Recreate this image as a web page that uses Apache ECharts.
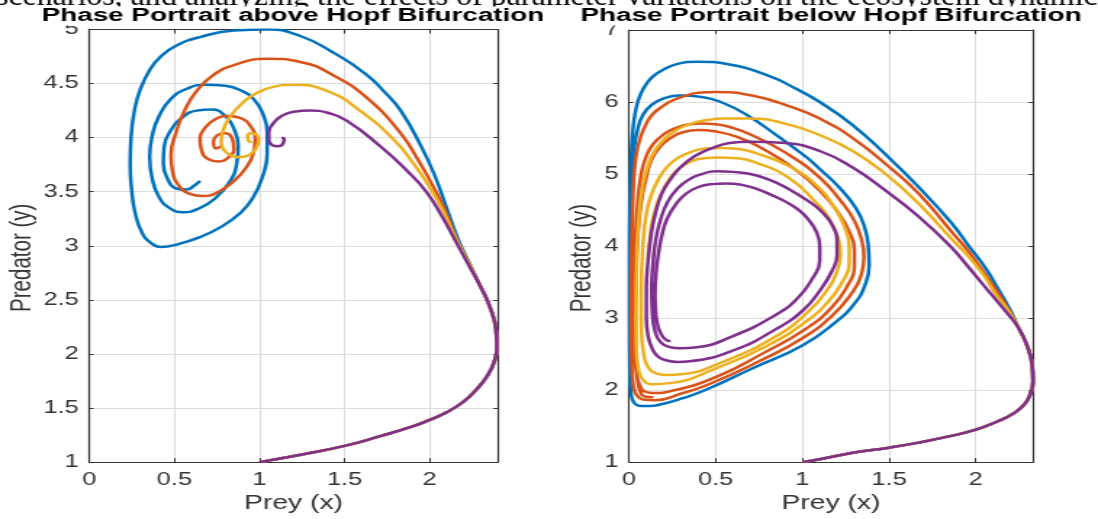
<!DOCTYPE html>
<html>
<head>
<meta charset="utf-8">
<script src="https://cdn.jsdelivr.net/npm/echarts@6/dist/echarts.min.js"></script>
<style>
  html, body { margin: 0; padding: 0; background: #fff; overflow: hidden; }
  #chart { width: 757px; height: 519px; transform: scaleX(1.45046); transform-origin: 0 0; }
</style>
</head>
<body>
<div id="chart"></div>
<script>
// shared start of every trajectory (prey, predator)
const aboveStart = [[1.0,1.0],[1.25,1.07],[1.5,1.15],[1.71,1.24],[1.9,1.33],[2.0,1.39],[2.1,1.46],[2.2,1.56],[2.28,1.68],[2.34,1.8],[2.38,1.93],[2.395,2.06],[2.39,2.22],[2.35,2.45],[2.3,2.62]];
const aboveBlue = [[2.24,2.82],[2.17,3.05],[2.1,3.35],[2.03,3.65],[1.95,3.92],[1.83,4.25],[1.73,4.43],[1.63,4.58],[1.43,4.79],[1.24,4.94],[1.05,5.0],[0.85,4.99],[0.65,4.93],[0.51,4.85],[0.42,4.75],[0.357,4.63],[0.3,4.45],[0.265,4.25],[0.245,4.0],[0.24,3.75],[0.25,3.5],[0.27,3.3],[0.31,3.12],[0.36,3.03],[0.42,2.99],[0.51,3.01],[0.65,3.08],[0.78,3.18],[0.885,3.3],[0.96,3.44],[1.02,3.65],[1.045,3.85],[1.045,4.05],[1.02,4.22],[0.97,4.35],[0.9,4.43],[0.8,4.48],[0.68,4.49],[0.57,4.45],[0.48,4.36],[0.41,4.2],[0.37,4.02],[0.355,3.82],[0.37,3.62],[0.41,3.45],[0.47,3.35],[0.55,3.31],[0.65,3.35],[0.74,3.44],[0.82,3.58],[0.865,3.75],[0.875,3.92],[0.85,4.08],[0.8,4.2],[0.72,4.26],[0.63,4.25],[0.55,4.19],[0.48,4.07],[0.44,3.92],[0.435,3.76],[0.46,3.62],[0.51,3.53],[0.57,3.52],[0.62,3.56],[0.65,3.6]];
const aboveOrange = [[2.24,2.81],[2.16,3.05],[2.09,3.33],[2.02,3.55],[1.93,3.8],[1.83,4.04],[1.63,4.37],[1.43,4.58],[1.24,4.7],[1.04,4.73],[0.85,4.67],[0.73,4.58],[0.63,4.43],[0.56,4.25],[0.51,4.05],[0.48,3.84],[0.49,3.68],[0.53,3.55],[0.59,3.48],[0.67,3.46],[0.76,3.5],[0.85,3.6],[0.92,3.72],[0.965,3.86],[0.975,3.99],[0.95,4.1],[0.89,4.18],[0.81,4.2],[0.74,4.17],[0.68,4.09],[0.65,3.99],[0.66,3.88],[0.7,3.8],[0.76,3.78],[0.82,3.82],[0.85,3.9],[0.84,3.99],[0.8,4.04],[0.75,4.02],[0.73,3.96],[0.745,3.9],[0.775,3.92]];
const aboveYellow = [[2.24,2.81],[2.16,3.05],[2.08,3.32],[2.0,3.54],[1.91,3.75],[1.79,3.98],[1.59,4.25],[1.4,4.43],[1.2,4.49],[1.08,4.47],[0.98,4.41],[0.9,4.32],[0.83,4.2],[0.785,4.06],[0.775,3.95],[0.8,3.87],[0.84,3.83],[0.89,3.82],[0.94,3.84],[0.98,3.9],[0.995,3.98],[0.98,4.03],[0.95,4.04],[0.93,4.01],[0.935,3.97],[0.955,3.96]];
const abovePurple = [[2.23,2.82],[2.15,3.05],[2.07,3.28],[1.98,3.5],[1.87,3.69],[1.71,3.92],[1.51,4.16],[1.4,4.23],[1.3,4.25],[1.2,4.24],[1.13,4.2],[1.08,4.13],[1.055,4.05],[1.055,3.98],[1.075,3.93],[1.11,3.92],[1.14,3.95],[1.145,3.99],[1.13,4.0]];

const belowStart = [[1.0,1.0],[1.1,1.04],[1.29,1.13],[1.5,1.2],[1.67,1.27],[1.85,1.36],[2.0,1.45],[2.13,1.57],[2.22,1.68],[2.28,1.8],[2.315,1.95],[2.33,2.12],[2.325,2.35],[2.3,2.59],[2.25,2.85]];
const belowBlue = [[2.19,3.15],[2.13,3.4],[2.06,3.68],[1.96,4.0],[1.86,4.32],[1.67,4.82],[1.48,5.27],[1.29,5.68],[1.1,6.0],[0.95,6.2],[0.81,6.36],[0.58,6.52],[0.39,6.56],[0.28,6.53],[0.2,6.45],[0.14,6.36],[0.1,6.25],[0.065,6.1],[0.04,5.9],[0.022,5.6],[0.012,5.2],[0.006,4.6],[0.003,4.0],[0.003,3.0],[0.005,2.3],[0.01,2.0],[0.02,1.87],[0.04,1.8],[0.07,1.78],[0.12,1.78],[0.18,1.8],[0.3,1.88],[0.43,1.99],[0.71,2.3],[1.0,2.62],[1.19,2.94],[1.3,3.2],[1.36,3.45],[1.385,3.73],[1.38,4.0],[1.36,4.25],[1.31,4.52],[1.21,4.82],[1.1,5.07],[1.02,5.24],[0.85,5.54],[0.68,5.82],[0.55,5.98],[0.42,6.07],[0.29,6.09],[0.2,6.05],[0.13,5.96],[0.08,5.82],[0.05,5.62],[0.03,5.36],[0.018,5.0],[0.01,4.5],[0.006,4.0],[0.004,3.0],[0.005,2.05]];
const belowOrange = [[2.18,3.15],[2.12,3.38],[2.05,3.62],[1.96,3.92],[1.86,4.2],[1.67,4.73],[1.48,5.14],[1.29,5.5],[1.1,5.77],[0.94,5.93],[0.71,6.09],[0.5,6.14],[0.4,6.13],[0.33,6.09],[0.25,6.02],[0.2,5.95],[0.14,5.84],[0.1,5.7],[0.065,5.5],[0.044,5.3],[0.03,5.0],[0.022,4.6],[0.015,4.0],[0.012,3.0],[0.015,2.4],[0.022,2.12],[0.035,1.97],[0.055,1.9],[0.08,1.87],[0.15,1.86],[0.3,1.95],[0.45,2.07],[0.75,2.4],[1.0,2.72],[1.17,3.03],[1.28,3.33],[1.34,3.6],[1.355,3.85],[1.34,4.1],[1.3,4.35],[1.23,4.6],[1.1,4.95],[0.9,5.3],[0.7,5.55],[0.6,5.64],[0.5,5.69],[0.42,5.7],[0.35,5.69],[0.27,5.64],[0.2,5.55],[0.14,5.42],[0.1,5.25],[0.07,5.0],[0.05,4.6],[0.035,4.0],[0.03,3.0],[0.033,2.5],[0.045,2.2],[0.065,2.05],[0.09,1.98],[0.14,1.96],[0.25,1.99],[0.5,2.18],[0.78,2.52],[1.02,2.85],[1.17,3.15],[1.26,3.45],[1.3,3.7],[1.3,3.95],[1.27,4.2],[1.21,4.45],[1.12,4.72],[0.95,5.08],[0.75,5.38],[0.62,5.52],[0.5,5.59],[0.4,5.61],[0.31,5.58],[0.24,5.5],[0.18,5.38],[0.13,5.2],[0.1,4.95],[0.07,4.6],[0.05,4.1],[0.04,3.5],[0.037,2.9],[0.04,2.4],[0.05,2.12],[0.065,1.98],[0.09,1.91],[0.14,1.9]];
const belowYellow = [[2.18,3.13],[2.11,3.35],[2.05,3.58],[1.96,3.85],[1.86,4.1],[1.67,4.59],[1.48,5.0],[1.29,5.32],[1.1,5.54],[0.9,5.7],[0.7,5.77],[0.55,5.77],[0.45,5.75],[0.36,5.7],[0.28,5.62],[0.21,5.5],[0.15,5.33],[0.11,5.12],[0.08,4.85],[0.06,4.5],[0.047,4.0],[0.04,3.0],[0.042,2.6],[0.05,2.36],[0.065,2.2],[0.09,2.12],[0.13,2.08],[0.25,2.1],[0.5,2.3],[0.8,2.62],[1.02,2.95],[1.15,3.23],[1.23,3.5],[1.27,3.75],[1.27,4.0],[1.24,4.28],[1.18,4.55],[1.1,4.8],[0.93,5.1],[0.72,5.3],[0.62,5.35],[0.52,5.36],[0.43,5.35],[0.35,5.3],[0.28,5.22],[0.22,5.1],[0.17,4.93],[0.13,4.72],[0.1,4.45],[0.08,4.0],[0.07,3.3],[0.072,2.8],[0.085,2.5],[0.11,2.32],[0.16,2.23],[0.22,2.21],[0.3,2.22],[0.55,2.4],[0.85,2.75],[1.03,3.08],[1.14,3.38],[1.2,3.65],[1.22,3.9],[1.2,4.15],[1.15,4.4],[1.08,4.6],[0.92,4.95],[0.72,5.17],[0.62,5.22],[0.52,5.23],[0.43,5.22],[0.36,5.18],[0.29,5.08],[0.23,4.92],[0.18,4.7],[0.14,4.4],[0.12,4.1],[0.11,3.8]];
const belowPurple = [[2.17,3.1],[2.1,3.3],[2.03,3.5],[1.95,3.73],[1.86,3.98],[1.67,4.41],[1.48,4.77],[1.29,5.09],[1.1,5.32],[0.9,5.43],[0.7,5.45],[0.58,5.43],[0.48,5.36],[0.38,5.25],[0.3,5.1],[0.24,4.93],[0.19,4.73],[0.155,4.48],[0.13,4.2],[0.11,3.8],[0.1,3.4],[0.1,3.0],[0.11,2.75],[0.135,2.57],[0.17,2.46],[0.22,2.41],[0.28,2.39],[0.35,2.4],[0.6,2.55],[0.85,2.85],[1.0,3.1],[1.1,3.38],[1.17,3.65],[1.2,3.88],[1.2,4.05],[1.17,4.3],[1.11,4.48],[1.05,4.6],[0.9,4.82],[0.8,4.93],[0.7,5.0],[0.6,5.03],[0.5,5.04],[0.42,5.0],[0.35,4.93],[0.28,4.8],[0.22,4.6],[0.18,4.35],[0.155,4.1],[0.14,3.8],[0.13,3.4],[0.135,3.05],[0.15,2.82],[0.18,2.67],[0.23,2.6],[0.3,2.58],[0.38,2.59],[0.6,2.75],[0.85,3.05],[0.97,3.27],[1.05,3.52],[1.1,3.8],[1.1,4.0],[1.08,4.2],[1.03,4.38],[0.98,4.5],[0.9,4.62],[0.83,4.7],[0.74,4.79],[0.65,4.85],[0.56,4.87],[0.48,4.86],[0.4,4.82],[0.33,4.73],[0.27,4.58],[0.22,4.38],[0.19,4.15],[0.17,3.9],[0.155,3.6],[0.15,3.3],[0.155,3.05],[0.17,2.86],[0.195,2.74],[0.22,2.69],[0.24,2.68]];

const titles = ['Phase Portrait above Hopf Bifurcation', 'Phase Portrait below Hopf Bifurcation'];
const colors = ['#0072BD', '#D95319', '#EDB120', '#7E2F8E'];
const headerText = 'scenarios, and analyzing the effects of parameter variations on the ecosystem dynamics';

const S = 1098 / 757;   // the figure is stretched horizontally by this factor
const px = v => v / S;

const chart = echarts.init(document.getElementById('chart'));

const grids = [
  { left: px(89.3), top: 29.5, width: px(408.4), height: 440 },
  { left: px(629), top: 30, width: px(404), height: 440 }
];
const xRange = [[0, 2.4], [0, 2.33]];
const yRange = [[1, 5, 0.5], [1, 7, 1]];
const dark = '#333';
const gridColor = '#dcdcdc';
const font = 'Liberation Sans';

const xAxes = [], yAxes = [];
[0, 1].forEach(g => {
  const base = { gridIndex: g, type: 'value', min: xRange[g][0], max: xRange[g][1], interval: 0.5 };
  xAxes.push(Object.assign({}, base, {
    position: 'bottom',
    name: 'Prey (x)', nameLocation: 'middle', nameGap: 30,
    nameTextStyle: { color: dark, fontSize: 19.5, fontFamily: font },
    axisLine: { onZero: false, lineStyle: { color: dark, width: 1.2 } },
    axisTick: { inside: true, length: 4, lineStyle: { color: dark } },
    axisLabel: { color: dark, fontSize: 17.5, margin: 9, showMaxLabel: false, fontFamily: font },
    splitLine: { show: true, lineStyle: { color: gridColor, width: 1 } }
  }));
  xAxes.push(Object.assign({}, base, {
    position: 'top',
    axisLine: { onZero: false, lineStyle: { color: dark, width: 1.2 } },
    axisTick: { inside: true, length: 4, lineStyle: { color: dark } },
    axisLabel: { show: false }, splitLine: { show: false }
  }));
  const yb = { gridIndex: g, type: 'value', min: yRange[g][0], max: yRange[g][1], interval: yRange[g][2] };
  yAxes.push(Object.assign({}, yb, {
    position: 'left',
    name: 'Predator (y)', nameLocation: 'middle', nameGap: px(g === 0 ? 52 : 31),
    nameTextStyle: { color: dark, fontSize: 20.5, fontFamily: font, padding: [0, 24, 0, 0] },
    axisLine: { show: true, onZero: false, lineStyle: { color: dark, width: 1.2 } },
    axisTick: { show: true, inside: true, length: 3, lineStyle: { color: dark } },
    axisLabel: { color: dark, fontSize: 17.5, margin: px(10.5), fontFamily: font },
    splitLine: { show: true, lineStyle: { color: gridColor, width: 1 } }
  }));
  yAxes.push(Object.assign({}, yb, {
    position: 'right',
    axisLine: { show: true, onZero: false, lineStyle: { color: dark, width: 1.2 } },
    axisTick: { show: true, inside: true, length: 3, lineStyle: { color: dark } },
    axisLabel: { show: false }, splitLine: { show: false }
  }));
});

const above = [aboveBlue, aboveOrange, aboveYellow, abovePurple].map(d => aboveStart.concat(d));
const below = [belowBlue, belowOrange, belowYellow, belowPurple].map(d => belowStart.concat(d));

const series = [];
[above, below].forEach((set, g) => {
  set.forEach((data, i) => {
    series.push({
      type: 'line', xAxisIndex: g * 2, yAxisIndex: g * 2,
      data: data, showSymbol: false, smooth: 0.5, silent: true,
      lineStyle: { color: colors[i], width: 2.5 }, color: colors[i]
    });
  });
});

const option = {
  animation: false,
  backgroundColor: '#fff',
  grid: grids,
  xAxis: xAxes,
  yAxis: yAxes,
  series: series,
  graphic: [
    // leftover line of the page text above the figure (not stretched)
    { type: 'text', x: px(-4), y: -18, z: 0, scaleX: 1.075 / S,
      style: { text: headerText, fontFamily: 'Liberation Serif', fontSize: 29.7, fill: '#000', align: 'left', verticalAlign: 'top' } },
    { type: 'text', x: px(293), y: 16, z: 10,
      style: { text: titles[0], fontFamily: font, fontWeight: 'bold', fontSize: 19.2, fill: '#000', align: 'center', verticalAlign: 'middle', backgroundColor: '#fff' } },
    { type: 'text', x: px(831), y: 16, z: 10,
      style: { text: titles[1], fontFamily: font, fontWeight: 'bold', fontSize: 19.2, fill: '#000', align: 'center', verticalAlign: 'middle', backgroundColor: '#fff' } }
  ]
};

chart.setOption(option);
</script>
</body>
</html>
